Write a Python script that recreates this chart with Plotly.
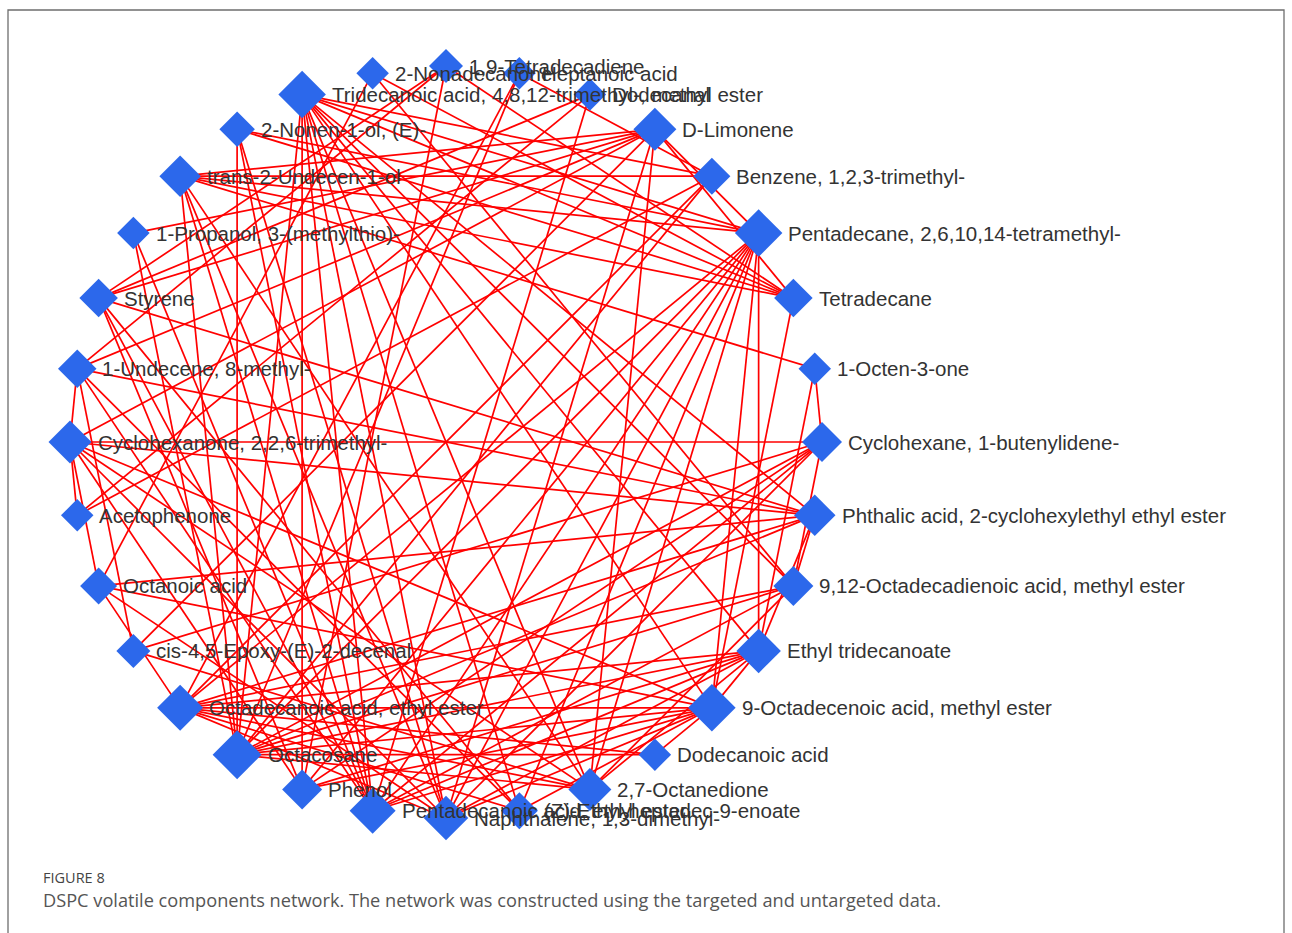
import numpy as np
import plotly.graph_objects as go

# Compounds, in order around the circular layout (counter-clockwise from the right)
compounds = [
    "Cyclohexane, 1-butenylidene-",
    "1-Octen-3-one",
    "Tetradecane",
    "Pentadecane, 2,6,10,14-tetramethyl-",
    "Benzene, 1,2,3-trimethyl-",
    "D-Limonene",
    "Dodecanal",
    "Heptanoic acid",
    "1,9-Tetradecadiene",
    "2-Nonadecanone",
    "Tridecanoic acid, 4,8,12-trimethyl-, methyl ester",
    "2-Nonen-1-ol, (E)-",
    "trans-2-Undecen-1-ol",
    "1-Propanol, 3-(methylthio)-",
    "Styrene",
    "1-Undecene, 8-methyl-",
    "Cyclohexanone, 2,2,6-trimethyl-",
    "Acetophenone",
    "Octanoic acid",
    "cis-4,5-Epoxy-(E)-2-decenal",
    "Octadecanoic acid, ethyl ester",
    "Octacosane",
    "Phenol",
    "Pentadecanoic acid, ethyl ester",
    "Naphthalene, 1,3-dimethyl-",
    "(Z)-Ethyl heptadec-9-enoate",
    "2,7-Octanedione",
    "Dodecanoic acid",
    "9-Octadecenoic acid, methyl ester",
    "Ethyl tridecanoate",
    "9,12-Octadecadienoic acid, methyl ester",
    "Phthalic acid, 2-cyclohexylethyl ethyl ester",
]

# Correlation links between compounds (source index, target index)
links_source = [
    10, 10, 10, 10, 10, 10, 10, 10, 10, 10, 10, 10, 10,
    3, 3, 3, 3, 3, 3, 3, 3, 3, 3, 3, 3,
    5, 5, 5, 5, 5, 5, 5, 5, 5,
    2, 2, 2, 2, 2,
    4, 4, 4, 4, 4,
    0, 0, 0, 0, 0, 0, 0, 0,
    1, 1,
    31, 31, 31, 31, 31, 31, 31, 31,
    30, 30, 30, 30,
    29, 29, 29, 29, 29, 29, 29,
    28, 28, 28, 28, 28, 28, 28, 28, 28,
    26, 26, 26, 26, 26,
    27, 27,
    25, 25, 25,
    24, 24, 24, 24, 24,
    23, 23, 23, 23, 23,
    22, 22,
    21, 21, 21,
    20,
    19,
    18, 18,
    17, 17,
    15, 15,
    14, 14,
    7, 7, 6, 8, 9,
]
links_target = [
    2, 3, 4, 31, 30, 29, 28, 26, 25, 24, 23, 22, 21,
    11, 12, 5, 20, 21, 22, 23, 24, 25, 26, 28, 29,
    2, 12, 14, 13, 16, 26, 24, 19, 15,
    11, 12, 9, 8, 28,
    12, 17, 21, 20, 7,
    16, 1, 30, 21, 22, 19, 24, 23,
    29, 12,
    16, 14, 30, 29, 20, 21, 18, 15,
    20, 21, 26, 23,
    20, 21, 22, 23, 24, 26, 28,
    20, 21, 22, 23, 24, 25, 27, 16, 18,
    16, 20, 21, 19, 12,
    20, 21,
    14, 20, 15,
    16, 12, 11, 18, 20,
    12, 14, 13, 15, 11,
    16, 14,
    12, 11, 13,
    18,
    15,
    16, 9,
    16, 6,
    16, 8,
    8, 6,
    20, 21, 23, 22, 30,
]

# Circular layout on a unit circle
n = len(compounds)
angle = 2 * np.pi * np.arange(n) / n
node_x = np.cos(angle)
node_y = np.sin(angle)

# Node size follows the number of links
degree = np.zeros(n, dtype=int)
for s, t in zip(links_source, links_target):
    degree[s] += 1
    degree[t] += 1
marker_size = (28 + 1.5 * degree) / 1.3

edge_x, edge_y = [], []
for s, t in zip(links_source, links_target):
    edge_x += [node_x[s], node_x[t], None]
    edge_y += [node_y[s], node_y[t], None]

W, H = 1292, 933
CX, CY, R = 446, 442, 376  # circle centre and radius in pixels

fig = go.Figure()
fig.add_trace(go.Scatter(
    x=edge_x, y=edge_y, mode="lines",
    line=dict(color="#ff0000", width=1.7),
    hoverinfo="skip", showlegend=False,
))
fig.add_trace(go.Scatter(
    x=node_x, y=node_y, mode="markers",
    marker=dict(symbol="diamond", size=marker_size, color="#2c68eb",
                opacity=1, line=dict(width=0)),
    text=compounds, hoverinfo="text", showlegend=False,
))

annotations = []
for i, name in enumerate(compounds):
    annotations.append(dict(
        x=node_x[i], y=node_y[i], xref="x", yref="y",
        text=name, showarrow=False, xanchor="left", yanchor="middle",
        xshift=0.65 * marker_size[i] + 4,
        font=dict(family="Arial, Liberation Sans, sans-serif", size=20.5, color="#333333"),
    ))

annotations.append(dict(
    x=41 / W, y=1 - 877 / H, xref="paper", yref="paper", showarrow=False,
    xanchor="left", yanchor="middle", text="FIGURE 8",
    font=dict(family="Open Sans, sans-serif", size=14.5, color="#444444"),
))
annotations.append(dict(
    x=41 / W, y=1 - 900 / H, xref="paper", yref="paper", showarrow=False,
    xanchor="left", yanchor="middle",
    text="DSPC volatile components network. The network was constructed using the targeted and untargeted data.",
    font=dict(family="Open Sans, sans-serif", size=18.2, color="#555555"),
))

fig.update_layout(
    width=W, height=H,
    margin=dict(l=0, r=0, t=0, b=0),
    paper_bgcolor="white", plot_bgcolor="white",
    xaxis=dict(range=[-CX / R, (W - CX) / R], visible=False, fixedrange=True),
    yaxis=dict(range=[-(H - CY) / R, CY / R], visible=False, fixedrange=True),
    annotations=annotations,
    shapes=[dict(
        type="rect", xref="paper", yref="paper",
        x0=8 / W, x1=1284 / W, y0=-0.05, y1=1 - 10 / H,
        line=dict(color="#6e6e6e", width=1.3), fillcolor="rgba(0,0,0,0)",
    )],
)

fig.write_html("out.html")
